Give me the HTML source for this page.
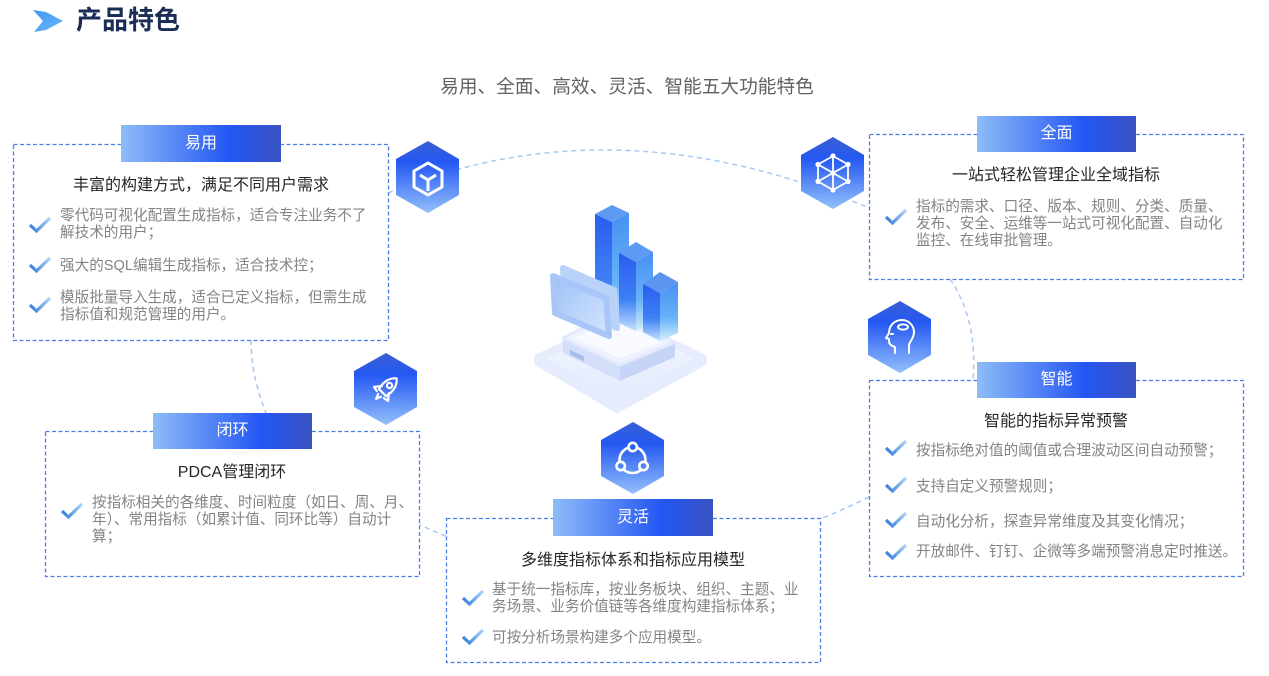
<!DOCTYPE html>
<html><head><meta charset="utf-8">
<style>
html,body{margin:0;padding:0;background:#fff;}
body{width:1269px;height:676px;position:relative;overflow:hidden;}
.t{position:absolute;white-space:nowrap;font-family:"Liberation Sans","Noto Sans CJK SC",sans-serif;}
.tt{font-size:16px;color:#262626;line-height:20px;text-align:center;}
.b{font-size:14.6px;color:#838383;line-height:17px;}
.lab{font-size:16px;color:#fff;text-align:center;}
</style></head><body>
<svg width="1269" height="676" style="position:absolute;left:0;top:0" xmlns="http://www.w3.org/2000/svg">
<defs>
 <linearGradient id="hx" x1="0" y1="0" x2="0" y2="1"><stop offset="0" stop-color="#3b5fd5"/><stop offset=".3" stop-color="#2558f2"/><stop offset="1" stop-color="#93c0fb"/></linearGradient>
 <linearGradient id="tb" x1="0" y1="0" x2="1" y2="0"><stop offset="0" stop-color="#8ebcf8"/><stop offset=".68" stop-color="#2356f3"/><stop offset="1" stop-color="#3a53c2"/></linearGradient>
 <linearGradient id="ckg" x1="0" y1="0" x2="1" y2="0"><stop offset="0" stop-color="#3a80dd"/><stop offset=".4" stop-color="#5598e5"/><stop offset="1" stop-color="#b2d4f8"/></linearGradient>
 <linearGradient id="chev" x1="0" y1="0" x2="1" y2="1"><stop offset="0" stop-color="#3d97f2"/><stop offset="1" stop-color="#6cb8fa"/></linearGradient>
 <linearGradient id="bl" x1="0" y1="0" x2="0" y2="1"><stop offset="0" stop-color="#2a5cf0"/><stop offset=".6" stop-color="#3f80f5"/><stop offset="1" stop-color="#c4e2fd"/></linearGradient>
 <linearGradient id="br" x1="0" y1="0" x2="0" y2="1"><stop offset="0" stop-color="#4690f4"/><stop offset=".6" stop-color="#66b2f8"/><stop offset="1" stop-color="#d4eefd"/></linearGradient>
 <linearGradient id="pn" x1="0" y1="0" x2="1" y2="1"><stop offset="0" stop-color="#9dc0f7"/><stop offset="1" stop-color="#d6e6fd"/></linearGradient>
 <linearGradient id="pl" x1="0" y1="0" x2="0" y2="1"><stop offset="0" stop-color="#f6f8ff"/><stop offset="1" stop-color="#e1e9fc"/></linearGradient>
 <g id="ck"><polyline points="1,8 7.5,14 21,1" fill="none" stroke="url(#ckg)" stroke-width="3.2"/></g>
 <polygon id="hex" points="32,0 63,18 63,54 32,72 0,54 0,18" fill="url(#hx)"/>
</defs>

<!-- header -->
<polygon points="33,10 46,12 63,21 46,30 34,32 43,21" fill="url(#chev)"/>

<!-- connectors -->
<g fill="none" stroke="#a8c8f3" stroke-width="1.5" stroke-dasharray="5 4">
 <path d="M388,193 Q615,100 869,208"/>
 <path d="M950,279 Q978,320 973,380"/>
 <path d="M869,497 Q845,509 820,519"/>
 <path d="M446,536 Q432,531 419,524"/>
 <path d="M251,340 Q251,376 266,413"/>
</g>

<!-- boxes -->
<g fill="#fff" stroke="#4a80e6" stroke-width="1.3" stroke-dasharray="4 2.5">
 <rect x="13.5" y="144.5" width="375" height="196"/>
 <rect x="869.5" y="134.5" width="374" height="145"/>
 <rect x="869.5" y="380.5" width="374" height="196"/>
 <rect x="45.5" y="431.5" width="374" height="145"/>
 <rect x="446.5" y="518.5" width="374" height="144"/>
</g>

<!-- tabs -->
<g fill="url(#tb)">
 <rect x="121" y="125" width="160" height="37"/>
 <rect x="977" y="116" width="159" height="36"/>
 <rect x="977" y="362" width="159" height="36"/>
 <rect x="153" y="413" width="159" height="36"/>
 <rect x="553" y="499" width="160" height="37"/>
</g>

<!-- hexes -->
<g transform="translate(396,141)"><use href="#hex"/>
 <g fill="none" stroke="#fff" stroke-width="3" stroke-linejoin="round">
  <polygon points="32,22 46,30 46,46 32,54 18,46 18,30"/>
  <polyline points="24,34 32,39 40,34"/><line x1="32" y1="39" x2="32" y2="50"/>
 </g></g>
<g transform="translate(801,137)"><use href="#hex"/>
 <g fill="none" stroke="#fff" stroke-width="1.8">
  <polygon points="32,19 47,27.5 47,44.5 32,53 17,44.5 17,27.5"/>
  <line x1="32" y1="19" x2="32" y2="53"/><line x1="47" y1="27.5" x2="17" y2="44.5"/><line x1="17" y1="27.5" x2="47" y2="44.5"/>
 </g>
 <g fill="#fff"><circle cx="32" cy="19" r="2.6"/><circle cx="47" cy="27.5" r="2.6"/><circle cx="47" cy="44.5" r="2.6"/><circle cx="32" cy="53" r="2.6"/><circle cx="17" cy="44.5" r="2.6"/><circle cx="17" cy="27.5" r="2.6"/><circle cx="32" cy="36" r="2.6"/></g>
</g>
<g transform="translate(868,301)"><use href="#hex"/>
 <g fill="none" stroke="#fff" stroke-width="2" stroke-linejoin="round" stroke-linecap="round">
  <path d="M27,52 L27,46 C23,45 21,43 21,40 L21,38 L18,37 L21,32 C21,24 27,19 34,19 C41,19 46,25 46,31 C46,37 42,40 41,44 L41,52"/>
  <ellipse cx="35" cy="26" rx="5" ry="2.6"/>
  <path d="M23,33 L25,33"/>
 </g></g>
<g transform="translate(354,353)"><use href="#hex"/>
 <g transform="translate(32,36) rotate(45)" fill="none" stroke="#fff" stroke-width="2.2" stroke-linejoin="round" stroke-linecap="round">
  <path d="M0,-15 C6,-10 7,-3 5,5 L-5,5 C-7,-3 -6,-10 0,-15 Z"/>
  <circle cx="0" cy="-5" r="2.6"/>
  <path d="M-5,1 L-10,7 L-5,8"/><path d="M5,1 L10,7 L5,8"/>
  <path d="M-2,9 L0,14 L2,9"/>
 </g></g>
<g transform="translate(601,422)"><use href="#hex"/>
 <circle cx="31.5" cy="38" r="13" fill="none" stroke="#fff" stroke-width="2.6"/>
 <circle cx="31.7" cy="25" r="4.2" fill="#2a5ef1" stroke="#fff" stroke-width="2.6"/>
 <circle cx="19.7" cy="44" r="4.2" fill="#4f84f4" stroke="#fff" stroke-width="2.6"/>
 <circle cx="42.5" cy="44" r="4.2" fill="#4f84f4" stroke="#fff" stroke-width="2.6"/>
</g>

<!-- center illustration -->
<g stroke-linejoin="round">
 <polygon points="538,362 620,322 703,362 617,409" fill="#dbe5fb" stroke="#dbe5fb" stroke-width="8" opacity=".7"/>
 <polygon points="538,358 620,318 703,358 617,405" fill="url(#pl)" stroke="#e6ecfc" stroke-width="8"/>
 <polygon points="563,338 620,365 620,381 563,353" fill="#d3def8"/>
 <polygon points="620,365 675,342 675,357 620,381" fill="#c6d4f6"/>
 <polygon points="563,338 613,313 675,342 620,365" fill="#eef3ff" stroke="#e3eafc" stroke-width="3"/>
 <polygon points="575,338 613,320 662,342 620,358" fill="#f8faff"/>
 <rect x="570" y="349" width="14" height="5" fill="#9fb4e8" transform="skewY(25) translate(0,-265)" opacity=".8"/>
 <!-- bars -->
 <polygon points="595,214 612,222 612,326 595,318" fill="url(#bl)"/>
 <polygon points="612,222 629,213 629,318 612,326" fill="url(#br)"/>
 <polygon points="612,205 629,213 612,222 595,214" fill="#5e9af4"/>
 <!-- panels -->
 <polygon points="563,268 614,290 617,328 565,305" fill="#b9d2f9" stroke="#b9d2f9" stroke-width="6"/>
 <polygon points="553,276 606,298 609,336 555,313" fill="url(#pn)" stroke="#a8c6f7" stroke-width="6"/>
 <polygon points="619,253 636,262 636,331 619,323" fill="url(#bl)"/>
 <polygon points="636,262 653,252 653,323 636,331" fill="url(#br)"/>
 <polygon points="636,242 653,252 636,262 619,253" fill="#5e9af4"/>
 <polygon points="643,284 660,293 660,341 643,332" fill="url(#bl)"/>
 <polygon points="660,293 678,282 678,333 660,341" fill="url(#br)"/>
 <polygon points="660,272 678,282 660,293 643,284" fill="#5b95ef"/>
</g>

<!-- checks -->
<use href="#ck" x="29" y="217"/>
<use href="#ck" x="29" y="257"/>
<use href="#ck" x="29" y="297"/>
<use href="#ck" x="885" y="209"/>
<use href="#ck" x="885" y="440"/>
<use href="#ck" x="885" y="477"/>
<use href="#ck" x="885" y="512"/>
<use href="#ck" x="885" y="544"/>
<use href="#ck" x="61" y="503"/>
<use href="#ck" x="462" y="590"/>
<use href="#ck" x="462" y="629"/>
</svg>

<div class="t" style="left:76px;top:5px;font-size:26px;line-height:30px;font-weight:bold;color:#1b2d55;">产品特色</div>
<div class="t" style="left:427px;top:75px;width:400px;text-align:center;font-size:18.7px;line-height:24px;color:#616161;">易用、全面、高效、灵活、智能五大功能特色</div>

<!-- tab labels -->
<div class="t lab" style="left:121px;top:125px;width:160px;line-height:37px;">易用</div>
<div class="t lab" style="left:977px;top:116px;width:159px;line-height:36px;">全面</div>
<div class="t lab" style="left:977px;top:362px;width:159px;line-height:36px;">智能</div>
<div class="t lab" style="left:153px;top:413px;width:159px;line-height:36px;">闭环</div>
<div class="t lab" style="left:553px;top:499px;width:160px;line-height:37px;">灵活</div>

<!-- titles -->
<div class="t tt" style="left:13px;top:176px;width:376px;">丰富的构建方式，满足不同用户需求</div>
<div class="t tt" style="left:869px;top:166px;width:374px;">一站式轻松管理企业全域指标</div>
<div class="t tt" style="left:869px;top:412px;width:374px;">智能的指标异常预警</div>
<div class="t tt" style="left:45px;top:463px;width:374px;">PDCA管理闭环</div>
<div class="t tt" style="left:446px;top:551px;width:374px;">多维度指标体系和指标应用模型</div>

<!-- bullets -->
<div class="t b" style="left:60px;top:207.5px;">零代码可视化配置生成指标，适合专注业务不了<br>解技术的用户；</div>
<div class="t b" style="left:60px;top:257.5px;">强大的SQL编辑生成指标，适合技术控；</div>
<div class="t b" style="left:60px;top:289.5px;">模版批量导入生成，适合已定义指标，但需生成<br>指标值和规范管理的用户。</div>

<div class="t b" style="left:916px;top:198.5px;">指标的需求、口径、版本、规则、分类、质量、<br>发布、安全、运维等一站式可视化配置、自动化<br>监控、在线审批管理。</div>

<div class="t b" style="left:916px;top:442.5px;">按指标绝对值的阈值或合理波动区间自动预警；</div>
<div class="t b" style="left:916px;top:478.5px;">支持自定义预警规则；</div>
<div class="t b" style="left:916px;top:513.5px;">自动化分析，探查异常维度及其变化情况；</div>
<div class="t b" style="left:916px;top:543.5px;">开放邮件、钉钉、企微等多端预警消息定时推送。</div>

<div class="t b" style="left:92px;top:494.5px;">按指标相关的各维度、时间粒度（如日、周、月、<br>年）、常用指标（如累计值、同环比等）自动计<br>算；</div>

<div class="t b" style="left:492px;top:581.5px;">基于统一指标库，按业务板块、组织、主题、业<br>务场景、业务价值链等各维度构建指标体系；</div>
<div class="t b" style="left:492px;top:629.5px;">可按分析场景构建多个应用模型。</div>
</body></html>
